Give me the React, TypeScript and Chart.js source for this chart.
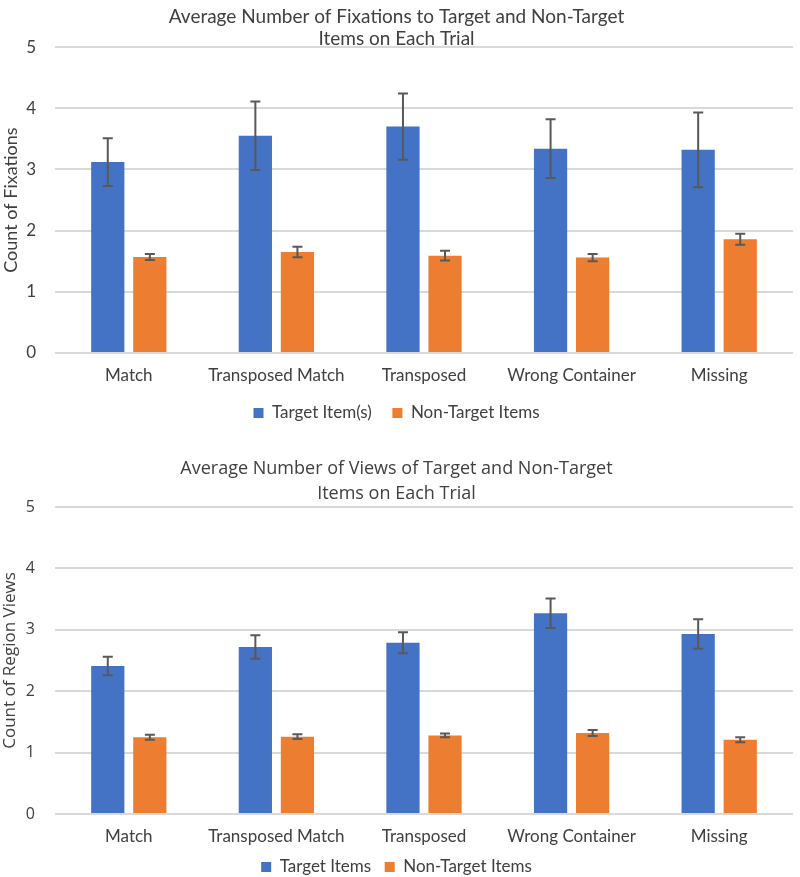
import React, { useEffect, useRef } from "react";
import { Chart, registerables } from "chart.js";

Chart.register(...registerables);

const categories = ["Match", "Transposed Match", "Transposed", "Wrong Container", "Missing"];
const yTicks = [0, 1, 2, 3, 4, 5];

const fixTarget = [3.12, 3.55, 3.70, 3.34, 3.32];
const fixTargetErr = [0.39, 0.56, 0.54, 0.48, 0.61];
const fixNonTarget = [1.57, 1.65, 1.59, 1.56, 1.86];
const fixNonTargetErr = [0.05, 0.085, 0.08, 0.06, 0.09];

const viewTarget = [2.41, 2.72, 2.79, 3.27, 2.93];
const viewTargetErr = [0.15, 0.19, 0.17, 0.24, 0.24];
const viewNonTarget = [1.25, 1.26, 1.28, 1.32, 1.21];
const viewNonTargetErr = [0.04, 0.04, 0.03, 0.05, 0.04];

const BLUE = "#4472C4";
const ORANGE = "#ED7D31";
const GREY = "#595959";
const TEXT = "#404040";
const GRID = "#d9d9d9";

const errorBarPlugin = {
  id: "errorBars",
  afterDatasetsDraw(chart: any, _args: any, opts: any) {
    const errs: number[][] = opts.errors || [];
    const ctx = chart.ctx;
    const y = chart.scales.y;
    chart.data.datasets.forEach((ds: any, i: number) => {
      const meta = chart.getDatasetMeta(i);
      meta.data.forEach((bar: any, j: number) => {
        const v = ds.data[j] as number;
        const e = errs[i] ? errs[i][j] : 0;
        const x = bar.x;
        const top = y.getPixelForValue(v + e);
        const bot = y.getPixelForValue(v - e);
        ctx.save();
        ctx.strokeStyle = GREY;
        ctx.lineWidth = 2;
        ctx.beginPath();
        ctx.moveTo(x, top);
        ctx.lineTo(x, bot);
        ctx.moveTo(x - 5, top);
        ctx.lineTo(x + 5, top);
        ctx.moveTo(x - 5, bot);
        ctx.lineTo(x + 5, bot);
        ctx.stroke();
        ctx.restore();
      });
    });
  },
};

type Props = {
  height: number;
  title: string[];
  titleFont: string;
  titleSize: number;
  titleLineHeight: number;
  titlePadTop: number;
  titlePadBottom: number;
  yTitle: string;
  yFont: string;
  ySize: number;
  yTickPad: number;
  yTitleSize: number;
  labels: [string, string];
  target: number[];
  targetErr: number[];
  nonTarget: number[];
  nonTargetErr: number[];
  xAxisHeight: number;
  legendPad: number;
  bottomPad: number;
};

function BarChart(p: Props) {
  const ref = useRef<HTMLCanvasElement>(null);
  useEffect(() => {
    if (!ref.current) return;
    const chart = new Chart(ref.current, {
      type: "bar",
      data: {
        labels: categories,
        datasets: [
          { label: p.labels[0], data: p.target, backgroundColor: BLUE, categoryPercentage: 0.57, barPercentage: 0.79 },
          { label: p.labels[1], data: p.nonTarget, backgroundColor: ORANGE, categoryPercentage: 0.57, barPercentage: 0.79 },
        ],
      },
      options: {
        responsive: false,
        animation: false,
        devicePixelRatio: 1,
        layout: { padding: { left: 0, right: 7, top: 0, bottom: p.bottomPad } },
        plugins: {
          title: {
            display: true,
            text: p.title,
            color: TEXT,
            font: { family: p.titleFont, size: p.titleSize, weight: "normal", lineHeight: p.titleLineHeight },
            padding: { top: p.titlePadTop, bottom: p.titlePadBottom },
          },
          legend: {
            position: "bottom",
            labels: {
              color: TEXT,
              boxWidth: 10,
              boxHeight: 10,
              padding: p.legendPad,
              font: { family: "Lato", size: 17 },
            },
          },
          tooltip: { enabled: false },
          errorBars: { errors: [p.targetErr, p.nonTargetErr] },
        } as any,
        scales: {
          x: {
            grid: { display: false, drawTicks: false },
            border: { display: false },
            ticks: { color: TEXT, font: { family: "Lato", size: 17 }, padding: 12, maxRotation: 0 },
            afterFit: (s: any) => {
              s.height = p.xAxisHeight;
            },
          },
          y: {
            min: 0,
            max: 5,
            afterBuildTicks: (s: any) => {
              s.ticks = yTicks.map((v) => ({ value: v }));
            },
            grid: { color: GRID, lineWidth: 2, drawTicks: false },
            border: { display: false },
            ticks: { color: TEXT, font: { family: p.yFont, size: p.ySize }, padding: p.yTickPad },
            title: {
              display: true,
              text: p.yTitle,
              color: TEXT,
              font: { family: p.yFont, size: p.yTitleSize },
              padding: 0,
            },
            afterFit: (s: any) => {
              s.width = 55;
            },
          },
        },
      },
      plugins: [errorBarPlugin],
    });
    return () => chart.destroy();
  }, []);
  return <canvas ref={ref} width={800} height={p.height} style={{ display: "block", width: 800, height: p.height }} />;
}

export default function App() {
  return (
    <div style={{ position: "absolute", left: 0, top: 0, width: 800, background: "#fff" }}>
      <BarChart
        height={440}
        title={["Average Number of Fixations to Target and Non-Target", "Items on Each Trial"]}
        titleFont="Lato"
        titleSize={19}
        titleLineHeight={1.16}
        titlePadTop={6}
        titlePadBottom={-3}
        yTitle="Count of Fixations"
        yFont="Lato"
        ySize={17}
        yTickPad={19}
        yTitleSize={18}
        labels={["Target Item(s)", "Non-Target Items"]}
        target={fixTarget}
        targetErr={fixTargetErr}
        nonTarget={fixNonTarget}
        nonTargetErr={fixNonTargetErr}
        xAxisHeight={31}
        legendPad={20.5}
        bottomPad={8.5}
      />
      <BarChart
        height={437}
        title={["Average Number of Views of Target and Non-Target", "Items on Each Trial"]}
        titleFont="Open Sans"
        titleSize={18}
        titleLineHeight={1.4}
        titlePadTop={16.4}
        titlePadBottom={0.2}
        yTitle="Count of Region Views"
        yFont="Open Sans"
        ySize={16}
        yTickPad={20}
        yTitleSize={17}
        labels={["Target Items", "Non-Target Items"]}
        target={viewTarget}
        targetErr={viewTargetErr}
        nonTarget={viewNonTarget}
        nonTargetErr={viewNonTargetErr}
        xAxisHeight={31}
        legendPad={13.5}
        bottomPad={-8.5}
      />
    </div>
  );
}
